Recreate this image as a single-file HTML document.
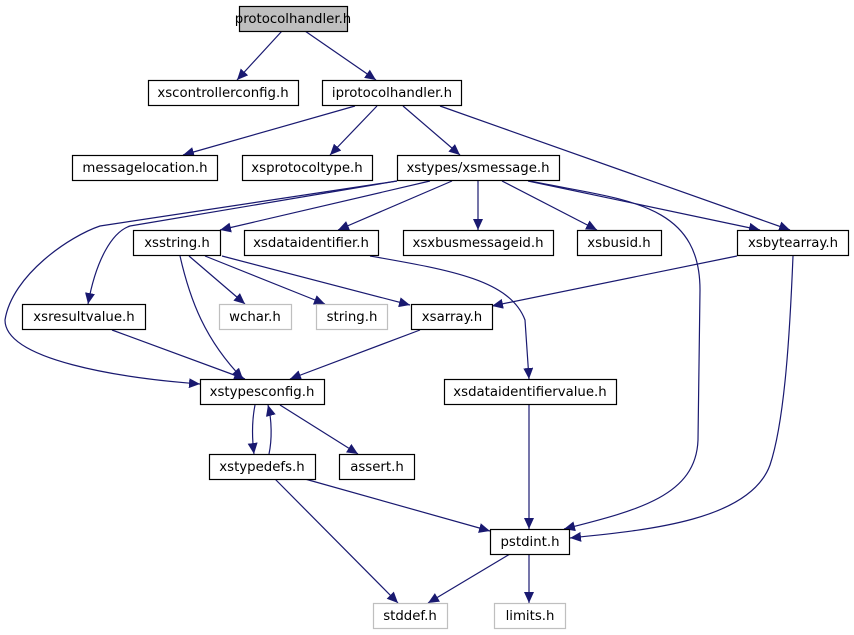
<!DOCTYPE html>
<html><head><meta charset="utf-8"><style>
html,body{margin:0;padding:0;background:#fff;}
svg{display:block;}
text{font-family:"DejaVu Sans","Liberation Sans",sans-serif;font-size:13.3px;fill:#000;text-anchor:middle;}
</style></head><body>
<svg width="854" height="635" viewBox="0 0 854 635" xmlns="http://www.w3.org/2000/svg">
<defs>
<marker id="a" markerUnits="userSpaceOnUse" markerWidth="12" markerHeight="10" refX="11" refY="5" orient="auto">
<path d="M0,0 L11,5 L0,10 Z" fill="#191970"/>
</marker>
</defs>
<g fill="none" stroke="#191970" stroke-width="1.2" marker-end="url(#a)">
<path d="M282,31 L237,80"/>
<path d="M305,31 L376,80"/>
<path d="M355,106 L183,155"/>
<path d="M377,106 L330,155"/>
<path d="M403,106 L460,155"/>
<path d="M440,106 L790,230"/>
<path d="M397,181 L130,226 C112,232 96,260 88,304"/>
<path d="M397,181 L100,226 C70,236 12,275 5,320 C5,360 120,378 200,384"/>
<path d="M430,181 L220,230"/>
<path d="M452,181 L338,230"/>
<path d="M478,181 L478,230"/>
<path d="M502,181 L597,230"/>
<path d="M528,181 L760,230"/>
<path d="M530,181 C620,200 700,200 700,290 L698,440 C696,495 640,510 564,529"/>
<path d="M370,256 C450,270 510,280 525,320 L529,379"/>
<path d="M737,256 L492,306"/>
<path d="M793,256 C790,330 785,420 770,465 C750,520 650,530 570,538"/>
<path d="M180,256 C190,300 205,340 243,379"/>
<path d="M189,256 L245,304"/>
<path d="M205,256 L325,304"/>
<path d="M222,256 L410,305"/>
<path d="M112,330 L245,379"/>
<path d="M420,330 L290,379"/>
<path d="M255,405 C252,420 252,438 254,454"/>
<path d="M269,454 C272,440 272,420 268,405"/>
<path d="M280,405 L358,454"/>
<path d="M529,405 L529,529"/>
<path d="M305,479 L490,531"/>
<path d="M275,479 L398,603"/>
<path d="M510,554 L428,603"/>
<path d="M529,554 L529,603"/>
</g>
<g stroke-width="1.2">
<rect x="239.5" y="6.5" width="108" height="25" fill="#bfbfbf" stroke="#000"/>
<rect x="148.5" y="80.5" width="150" height="25" fill="#fff" stroke="#000"/>
<rect x="322.5" y="80.5" width="139" height="25" fill="#fff" stroke="#000"/>
<rect x="72.5" y="155.5" width="145" height="25" fill="#fff" stroke="#000"/>
<rect x="242.5" y="155.5" width="130" height="25" fill="#fff" stroke="#000"/>
<rect x="397.5" y="155.5" width="162" height="25" fill="#fff" stroke="#000"/>
<rect x="133.5" y="230.5" width="87" height="25" fill="#fff" stroke="#000"/>
<rect x="244.5" y="230.5" width="134" height="25" fill="#fff" stroke="#000"/>
<rect x="403.5" y="230.5" width="150" height="25" fill="#fff" stroke="#000"/>
<rect x="577.5" y="230.5" width="84" height="25" fill="#fff" stroke="#000"/>
<rect x="737.5" y="230.5" width="111" height="25" fill="#fff" stroke="#000"/>
<rect x="22.5" y="304.5" width="123" height="25" fill="#fff" stroke="#000"/>
<rect x="219.5" y="304.5" width="72" height="25" fill="#fff" stroke="#bfbfbf"/>
<rect x="316.5" y="304.5" width="71" height="25" fill="#fff" stroke="#bfbfbf"/>
<rect x="411.5" y="304.5" width="81" height="25" fill="#fff" stroke="#000"/>
<rect x="200.5" y="379.5" width="124" height="25" fill="#fff" stroke="#000"/>
<rect x="444.5" y="379.5" width="172" height="25" fill="#fff" stroke="#000"/>
<rect x="209.5" y="454.5" width="106" height="25" fill="#fff" stroke="#000"/>
<rect x="339.5" y="454.5" width="75" height="25" fill="#fff" stroke="#000"/>
<rect x="490.5" y="529.5" width="79" height="25" fill="#fff" stroke="#000"/>
<rect x="373.5" y="603.5" width="74" height="25" fill="#fff" stroke="#bfbfbf"/>
<rect x="494.5" y="603.5" width="71" height="25" fill="#fff" stroke="#bfbfbf"/>
</g>
<text x="293" y="23">protocolhandler.h</text>
<text x="223" y="97">xscontrollerconfig.h</text>
<text x="392" y="97">iprotocolhandler.h</text>
<text x="145" y="172">messagelocation.h</text>
<text x="307" y="172">xsprotocoltype.h</text>
<text x="478" y="172">xstypes/xsmessage.h</text>
<text x="177" y="247">xsstring.h</text>
<text x="311" y="247">xsdataidentifier.h</text>
<text x="478" y="247">xsxbusmessageid.h</text>
<text x="619" y="247">xsbusid.h</text>
<text x="793" y="247">xsbytearray.h</text>
<text x="84" y="321">xsresultvalue.h</text>
<text x="255" y="321">wchar.h</text>
<text x="352" y="321">string.h</text>
<text x="452" y="321">xsarray.h</text>
<text x="262" y="396">xstypesconfig.h</text>
<text x="530" y="396">xsdataidentifiervalue.h</text>
<text x="262" y="471">xstypedefs.h</text>
<text x="377" y="471">assert.h</text>
<text x="530" y="546">pstdint.h</text>
<text x="410" y="620">stddef.h</text>
<text x="530" y="620">limits.h</text>
</svg>
</body></html>
